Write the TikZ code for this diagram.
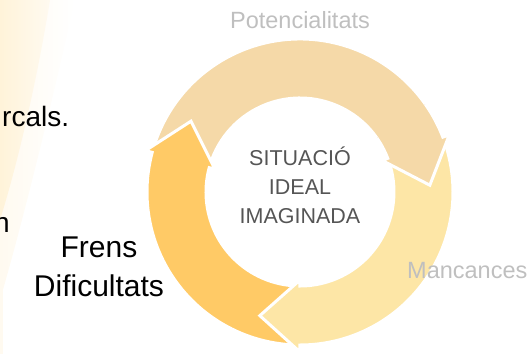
\documentclass[tikz,border=0pt]{standalone}
\usepackage{fontspec}
\setmainfont{Liberation Sans}
\definecolor{tanarrow}{HTML}{F5D9A8}
\definecolor{goldarrow}{HTML}{FFCA66}
\definecolor{palearrow}{HTML}{FDE6A6}
\definecolor{labelgray}{HTML}{BFBFBF}
\definecolor{centregray}{HTML}{555555}
\definecolor{creamback}{HTML}{FFF3D9}
\definecolor{paleback}{HTML}{FFFAF0}
\newcommand{\ringarrow}[4]{%
\path[fill=#1, draw=white, line width=3pt, line join=miter]
 (#2:153) arc[start angle=#2, end angle=#3, radius=153]
 -- (#3:160) -- (#4:130) -- (#3:88) -- (#3:94)
 arc[start angle=#3, end angle=#2, radius=94] -- cycle;}
\begin{document}
\begin{tikzpicture}[x=1pt, y=1pt,
 cyclelabel/.style={inner sep=0, text=labelgray, font=\fontsize{23.5}{28}\selectfont},
 centretext/.style={inner sep=0, text=centregray, align=center, font=\fontsize{21.5}{29}\selectfont},
 frenstext/.style={inner sep=0, align=center, font=\fontsize{30}{39}\selectfont},
 bodytext/.style={inner sep=0, font=\fontsize{28}{34}\selectfont}]
\clip (-300,-162) rectangle (230,192);
\shade[left color=paleback, right color=white] (-300,192) -- (-225,192) .. controls (-250,80) and (-280,-40) .. (-300,-108) -- cycle;
\shade[left color=creamback, right color=paleback] (-300,192) -- (-250,192) .. controls (-265,100) and (-285,20) .. (-300,-28) -- cycle;
\fill[paleback] (-300,-60) rectangle (-297,-162);
\ringarrow{tanarrow}{163}{21}{3}
\ringarrow{goldarrow}{-92}{-195}{-213}
\ringarrow{palearrow}{19}{-90}{-108}
\begin{scope}
\clip (0,0) -- (35:200) arc[start angle=35, end angle=-15, radius=200] -- cycle;
\ringarrow{tanarrow}{163}{21}{3}
\end{scope}
\node[cyclelabel, anchor=base] (potencialitats) at (0,164) {Potencialitats};
\node[cyclelabel, anchor=base west] (mancances) at (107,-86) {Mancances};
\node[frenstext, anchor=north] (frens) at (-201,-45) {Frens\\Dificultats};
\node[centretext, anchor=north] (situacio) at (0,45) {SITUACIÓ\\IDEAL\\IMAGINADA};
\node[bodytext, anchor=base west] (arcals) at (-298,66) {rcals.};
\node[bodytext, anchor=base east] (restn) at (-290,-40) {n};
\end{tikzpicture}
\end{document}
